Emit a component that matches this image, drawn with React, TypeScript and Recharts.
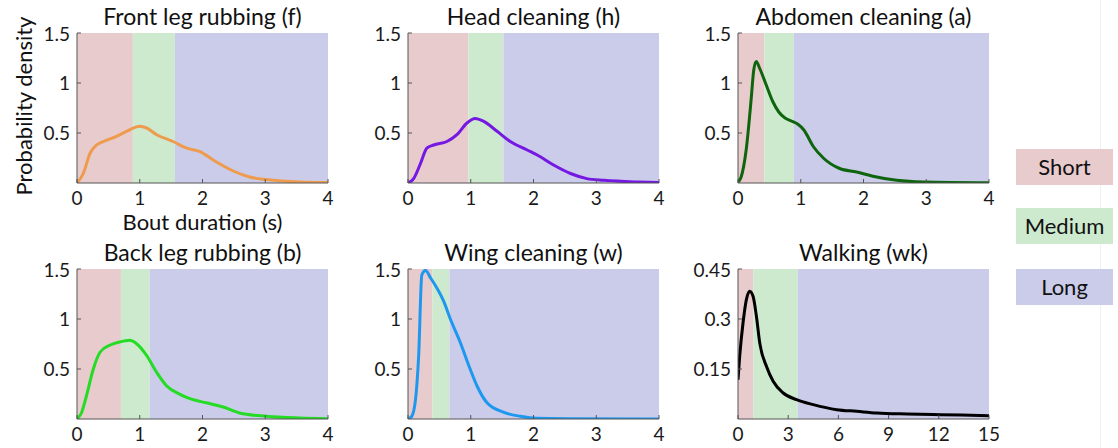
import { LineChart, Line, XAxis, YAxis, ReferenceArea } from 'recharts';

const FONT = 'Lato, "Open Sans", sans-serif';

// behaviour names, one panel each
const behaviors = [
  'Front leg rubbing (f)',
  'Head cleaning (h)',
  'Abdomen cleaning (a)',
  'Back leg rubbing (b)',
  'Wing cleaning (w)',
  'Walking (wk)',
];
const lineColors = ['#EE9B4E', '#7418E2', '#0E650E', '#23DC23', '#1E98EE', '#000000'];

// where the Short / Medium bands end (seconds)
const shortEnds = [0.89, 0.96, 0.42, 0.7, 0.39, 0.92];
const mediumEnds = [1.56, 1.52, 0.89, 1.16, 0.66, 3.57];

const bandNames = ['Short', 'Medium', 'Long'];
const bandColors = ['#E8CBCD', '#CDEACE', '#CBCCEA'];

// density curves
const frontLegX = [0, 0.1, 0.21, 0.31, 0.42, 0.63, 0.79, 1.0, 1.11, 1.27, 1.53, 1.75, 1.96, 2.17, 2.49, 2.75, 3.02, 3.55, 4];
const frontLegY = [0, 0.095, 0.3, 0.38, 0.415, 0.466, 0.517, 0.568, 0.55, 0.483, 0.415, 0.348, 0.314, 0.23, 0.12, 0.06, 0.034, 0.01, 0.005];

const headX = [0, 0.09, 0.2, 0.3, 0.41, 0.62, 0.78, 0.94, 1.07, 1.2, 1.42, 1.63, 1.9, 2.06, 2.32, 2.59, 2.85, 3.12, 3.65, 4];
const headY = [0, 0.044, 0.196, 0.348, 0.38, 0.415, 0.483, 0.6, 0.645, 0.618, 0.517, 0.415, 0.33, 0.28, 0.18, 0.095, 0.044, 0.027, 0.01, 0.004];

const abdomenX = [0, 0.05, 0.13, 0.21, 0.25, 0.29, 0.35, 0.45, 0.55, 0.65, 0.75, 0.85, 0.95, 1.05, 1.2, 1.36, 1.62, 1.89, 2.15, 2.53, 2.95, 4];
const abdomenY = [0.01, 0.06, 0.33, 0.84, 1.125, 1.216, 1.14, 0.98, 0.82, 0.71, 0.65, 0.62, 0.59, 0.53, 0.365, 0.25, 0.145, 0.11, 0.068, 0.027, 0.01, 0.003];

const backLegX = [0, 0.07, 0.15, 0.26, 0.37, 0.53, 0.68, 0.84, 0.95, 1.11, 1.27, 1.43, 1.64, 1.8, 2.06, 2.33, 2.59, 3.02, 3.55, 4];
const backLegY = [0, 0.06, 0.23, 0.5, 0.67, 0.74, 0.77, 0.787, 0.753, 0.635, 0.466, 0.33, 0.247, 0.203, 0.162, 0.12, 0.06, 0.027, 0.01, 0.003];

const wingX = [0, 0.06, 0.12, 0.17, 0.22, 0.28, 0.36, 0.46, 0.57, 0.67, 0.83, 0.99, 1.1, 1.26, 1.52, 1.79, 2.06, 2.59, 4];
const wingY = [0, 0.027, 0.196, 0.635, 1.44, 1.486, 1.41, 1.31, 1.176, 1.007, 0.77, 0.5, 0.33, 0.162, 0.068, 0.027, 0.007, 0.003, 0];

const walkX = [0, 0.1, 0.3, 0.5, 0.7, 0.9, 1.1, 1.3, 1.7, 2.1, 2.7, 3.5, 4.5, 5.9, 7.1, 8.3, 10.1, 12.1, 15];
const walkY = [0.118, 0.188, 0.288, 0.358, 0.383, 0.368, 0.308, 0.228, 0.158, 0.113, 0.078, 0.058, 0.043, 0.028, 0.023, 0.018, 0.015, 0.013, 0.01];

const secondsTicks = [0, 1, 2, 3, 4];
const walkTicks = [0, 3, 6, 9, 12, 15];
const densityTicks = [0.5, 1, 1.5];
const walkDensityTicks = [0.15, 0.3, 0.45];

const curves = [
  [frontLegX, frontLegY],
  [headX, headY],
  [abdomenX, abdomenY],
  [backLegX, backLegY],
  [wingX, wingY],
  [walkX, walkY],
];

const PW = 251;
const PH = 150;
const colLefts = [77, 408, 738];
const rowTops = [33, 269];

const tickStyle = { fontSize: 19, fill: '#1a1a1a', fontFamily: FONT };

function Panel({ i }: { i: number }) {
  const [xs, ys] = curves[i];
  const data = xs.map((x, k) => ({ x, y: ys[k] }));
  const walking = i === 5;
  const xMax = walking ? 15 : 4;
  const yMax = walking ? 0.45 : 1.5;
  const left = colLefts[i % 3];
  const top = rowTops[Math.floor(i / 3)];
  const ML = 70, MT = 10, MR = 10, MB = 40;

  return (
    <>
      <div style={{
        position: 'absolute', left, top: top - 29, width: PW, textAlign: 'center',
        fontFamily: FONT, fontSize: 23, lineHeight: '24px', color: '#111',
      }}>
        {behaviors[i]}
      </div>
      <div style={{ position: 'absolute', left: left - ML, top: top - MT }}>
        <LineChart width={PW + ML + MR} height={PH + MT + MB} data={data}
          margin={{ top: MT, right: MR, bottom: 0, left: 0 }}>
          <ReferenceArea x1={0} x2={shortEnds[i]} y1={0} y2={yMax} fill={bandColors[0]} fillOpacity={1} stroke="none" />
          <ReferenceArea x1={shortEnds[i]} x2={mediumEnds[i]} y1={0} y2={yMax} fill={bandColors[1]} fillOpacity={1} stroke="none" />
          <ReferenceArea x1={mediumEnds[i]} x2={xMax} y1={0} y2={yMax} fill={bandColors[2]} fillOpacity={1} stroke="none" />
          <XAxis type="number" dataKey="x" domain={[0, xMax]} ticks={walking ? walkTicks : secondsTicks}
            allowDataOverflow height={MB} tick={tickStyle} tickSize={-4} tickMargin={13}
            axisLine={{ stroke: '#555' }} tickLine={{ stroke: '#555' }} />
          <YAxis type="number" domain={[0, yMax]} ticks={walking ? walkDensityTicks : densityTicks}
            allowDataOverflow width={ML} tick={tickStyle} tickSize={-4} tickMargin={11}
            axisLine={{ stroke: '#555' }} tickLine={{ stroke: '#555' }} />
          <Line type="monotone" dataKey="y" stroke={lineColors[i]} strokeWidth={3}
            dot={false} isAnimationActive={false} />
        </LineChart>
      </div>
    </>
  );
}

export default function App() {
  return (
    <div style={{ position: 'absolute', left: 0, top: 0, width: 1118, height: 448, background: '#fff', overflow: 'hidden' }}>
      {behaviors.map((_, i) => <Panel key={i} i={i} />)}

      <div style={{
        position: 'absolute', left: 24 - 110, top: 106 - 13, width: 220, height: 26,
        transform: 'rotate(-90deg)', textAlign: 'center', fontFamily: FONT, fontSize: 22,
        lineHeight: '26px', color: '#111',
      }}>
        Probability density
      </div>
      <div style={{
        position: 'absolute', left: 77, top: 212, width: PW, textAlign: 'center',
        fontFamily: FONT, fontSize: 22, lineHeight: '20px', color: '#111',
      }}>
        Bout duration (s)
      </div>

      <div style={{ position: 'absolute', left: 1100, top: 0, width: 1, height: 448, background: '#f0f0f0' }} />
      {bandNames.map((name, k) => (
        <div key={name} style={{
          position: 'absolute', left: 1016, top: [149, 208, 269][k], width: 97, height: 36,
          background: bandColors[k], textAlign: 'center', lineHeight: '36px',
          fontFamily: FONT, fontSize: 22, color: '#111',
        }}>
          {name}
        </div>
      ))}
    </div>
  );
}
